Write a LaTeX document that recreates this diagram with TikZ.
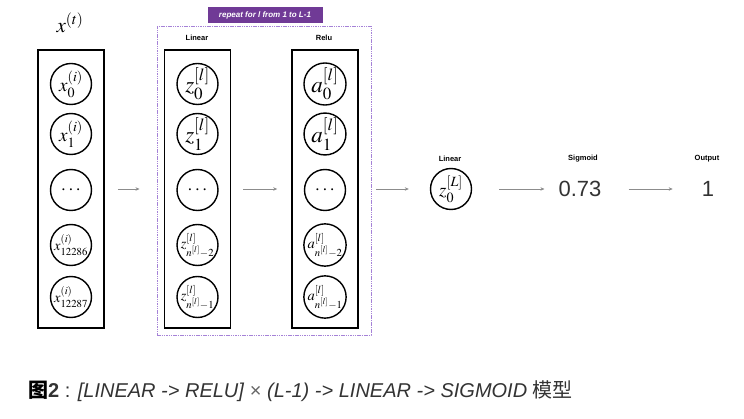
\documentclass[tikz,border=0pt]{standalone}
\usepackage{mathptmx}
\usepackage{fontspec}
\newfontfamily\hv{Liberation Sans}
\newfontfamily\cjk{Noto Sans CJK SC}
\usetikzlibrary{arrows.meta}
\definecolor{arrowgray}{RGB}{140,140,140}
\definecolor{repeatpurple}{RGB}{112,58,150}
\definecolor{framepurple}{RGB}{165,130,215}
\definecolor{captiongray}{RGB}{51,51,51}
\tikzset{
  layerbox/.style={draw=black, line width=1.7pt, minimum width=66pt, minimum height=278pt, inner sep=0pt},
  neuron/.style={circle, draw=black, line width=1.4pt, minimum size=41pt, inner sep=0pt},
  bigmath/.style={font=\fontsize{23}{23}\selectfont},
  midmath/.style={font=\fontsize{19}{19}\selectfont},
  smallmath/.style={font=\fontsize{14.5}{14.5}\selectfont},
  flow/.style={draw=arrowgray, line width=0.6pt, -{Stealth[length=4pt,width=3.5pt]}},
  smalllabel/.style={font=\hv\bfseries\fontsize{7.5}{8}\selectfont, inner sep=0pt},
  bigval/.style={font=\hv\fontsize{22}{22}\selectfont, inner sep=0pt, text=black!80},
}
\begin{document}
\begin{tikzpicture}[x=1pt,y=-1pt]
\useasboundingbox (0,0) rectangle (744,419);

% input column
\node[font=\fontsize{21}{21}\selectfont] (xt) at (70,23) {$x^{(t)}$};
\node[layerbox] (inbox) at (71,189) {};
\node[neuron,midmath] (x0) at (71,84) {$x_0^{(i)}$};
\node[neuron,midmath] (x1) at (71,134) {$x_1^{(i)}$};
\node[neuron,midmath] (x2) at (71,190) {$\cdots$};
\node[neuron,smallmath] (x3) at (71,245) {$x_{12286}^{(i)}$};
\node[neuron,smallmath] (x4) at (71,297) {$x_{12287}^{(i)}$};

% repeat frame
\node[draw=framepurple, dash pattern=on 1.5pt off 0.8pt, line width=0.9pt, minimum width=214pt, minimum height=309pt, inner sep=0pt] (repeat) at (264,180.5) {};
\node[fill=repeatpurple, text=white, font=\hv\bfseries\itshape\fontsize{8}{8}\selectfont, minimum width=115pt, minimum height=16pt, inner sep=1pt] (replabel) at (265,15) {repeat for l from 1 to L-1};

% linear column
\node[smalllabel] (linlab) at (197,38) {Linear};
\node[layerbox] (linbox) at (197.5,189) {};
\node[neuron,bigmath] (z0) at (197.5,84) {$z_0^{[l]}$};
\node[neuron,bigmath] (z1) at (197.5,134) {$z_1^{[l]}$};
\node[neuron,midmath] (z2) at (197.5,190) {$\cdots$};
\node[neuron,smallmath] (z3) at (197.5,245) {$z_{n^{[l]}-2}^{[l]}$};
\node[neuron,smallmath] (z4) at (197.5,297) {$z_{n^{[l]}-1}^{[l]}$};

% relu column
\node[smalllabel] (relulab) at (324,38) {Relu};
\node[layerbox] (relubox) at (325,189) {};
\node[neuron,bigmath] (a0) at (325,84) {$a_0^{[l]}$};
\node[neuron,bigmath] (a1) at (325,134) {$a_1^{[l]}$};
\node[neuron,midmath] (a2) at (325,190) {$\cdots$};
\node[neuron,smallmath] (a3) at (325,245) {$a_{n^{[l]}-2}^{[l]}$};
\node[neuron,smallmath] (a4) at (325,297) {$a_{n^{[l]}-1}^{[l]}$};

% output part
\node[smalllabel] (linlab2) at (450,159) {Linear};
\node[neuron,midmath] (zL) at (451,189) {$z_0^{[L]}$};
\node[smalllabel] (siglab) at (583,159) {Sigmoid};
\node[bigval] (sig) at (580,189) {0.73};
\node[smalllabel] (outlab) at (707,159) {Output};
\node[bigval] (out) at (708,189) {1};

% arrows
\draw[flow, shorten <=13pt, shorten >=17pt] (inbox.east) -- (inbox.east -| repeat.west);
\draw[flow, shorten <=12pt, shorten >=14pt] (linbox.east) -- (relubox.west);
\draw[flow, shorten <=5pt, shorten >=21pt] (repeat.east |- zL) -- (zL.west);
\draw[flow, shorten <=27pt, shorten >=14pt] (zL.east) -- (sig.west);
\draw[flow, shorten <=27pt, shorten >=29pt] (sig.east) -- (out.west);

% caption
\node[anchor=base west, inner sep=0pt, text=captiongray, font=\hv\fontsize{20}{20}\selectfont] (cap) at (28,397)
  {{\cjk\bfseries\color{black}图}\textbf{2} : \textit{[LINEAR -> RELU]} {\color{black!60}×} \textit{(L-1) -> LINEAR -> SIGMOID} {\cjk 模型}};
\end{tikzpicture}
\end{document}
